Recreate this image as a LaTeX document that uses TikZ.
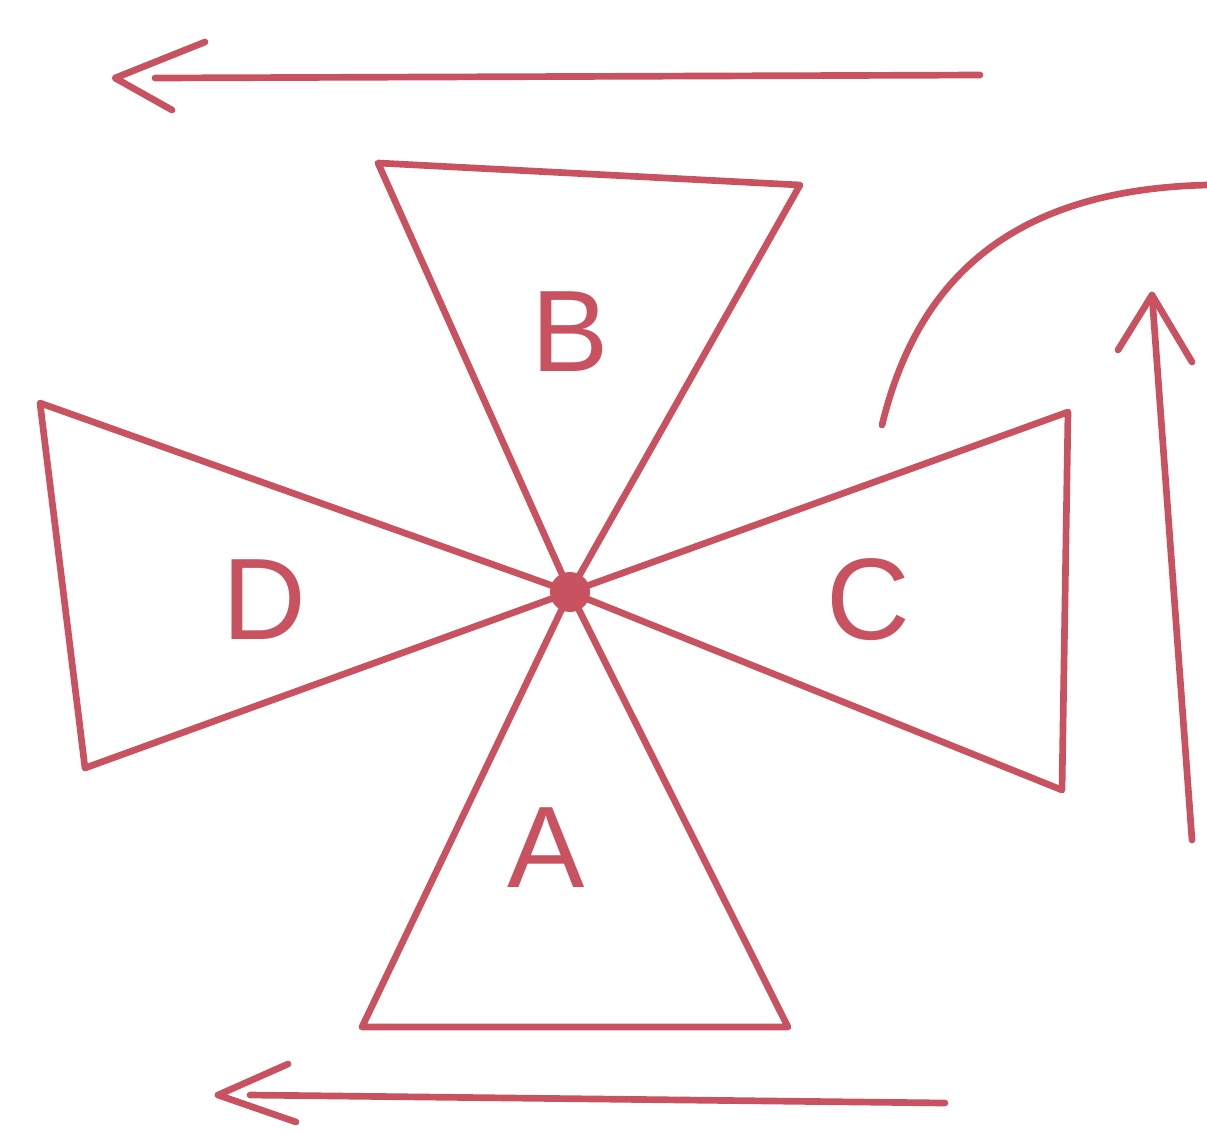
\documentclass[tikz,border=0pt]{standalone}
\usepackage{fontspec}
\setmainfont{Liberation Sans}
\definecolor{ink}{RGB}{201,82,96}
\begin{document}
\begin{tikzpicture}[x=0.02cm,y=-0.02cm,
  pen/.style={draw=ink,line width=3.8pt,line cap=round,line join=round},
  lbl/.style={text=ink,font=\fontsize{66}{66}\selectfont}]
\useasboundingbox (0,0) rectangle (1207,1134);
\coordinate (c) at (570,592);
% triangles
\coordinate (b1) at (378,163); \coordinate (b2) at (800,185);
\coordinate (d1) at (40,403);  \coordinate (d2) at (85,768);
\coordinate (c1) at (1068,412); \coordinate (c2) at (1062,790);
\coordinate (a1) at (362,1027); \coordinate (a2) at (788,1027);
\draw[pen] (c) -- (b1) -- (b2) -- cycle;
\draw[pen] (c) -- (d1) -- (d2) -- cycle;
\draw[pen] (c) -- (c1) -- (c2) -- cycle;
\draw[pen] (c) -- (a1) -- (a2) -- cycle;
\fill[ink] (c) circle (20);
% labels
\node[lbl] (B) at (570,332) {B};
\node[lbl] (D) at (264,600) {D};
\node[lbl] (C) at (868,600) {C};
\node[lbl] (A) at (546,848) {A};
% top arrow
\coordinate (t0) at (980,75); \coordinate (t1) at (155,78); \coordinate (tt) at (115,78);
\draw[pen] (t0) -- (t1);
\draw[pen] (205,42) -- (tt) -- (172,110);
% bottom arrow
\coordinate (u0) at (945,1103); \coordinate (u1) at (250,1095); \coordinate (ut) at (218,1095);
\draw[pen] (u0) -- (u1);
\draw[pen] (288,1064) -- (ut) -- (296,1122);
% right arrow
\coordinate (r0) at (1192,840); \coordinate (rt) at (1152,295);
\draw[pen] (r0) -- (rt);
\draw[pen] (1118,350) -- (rt) -- (1192,362);
% curve
\coordinate (k0) at (882,425); \coordinate (k1) at (1207,185);
\draw[pen] (k0) .. controls (915,290) and (1000,190) .. (k1);
\end{tikzpicture}
\end{document}
